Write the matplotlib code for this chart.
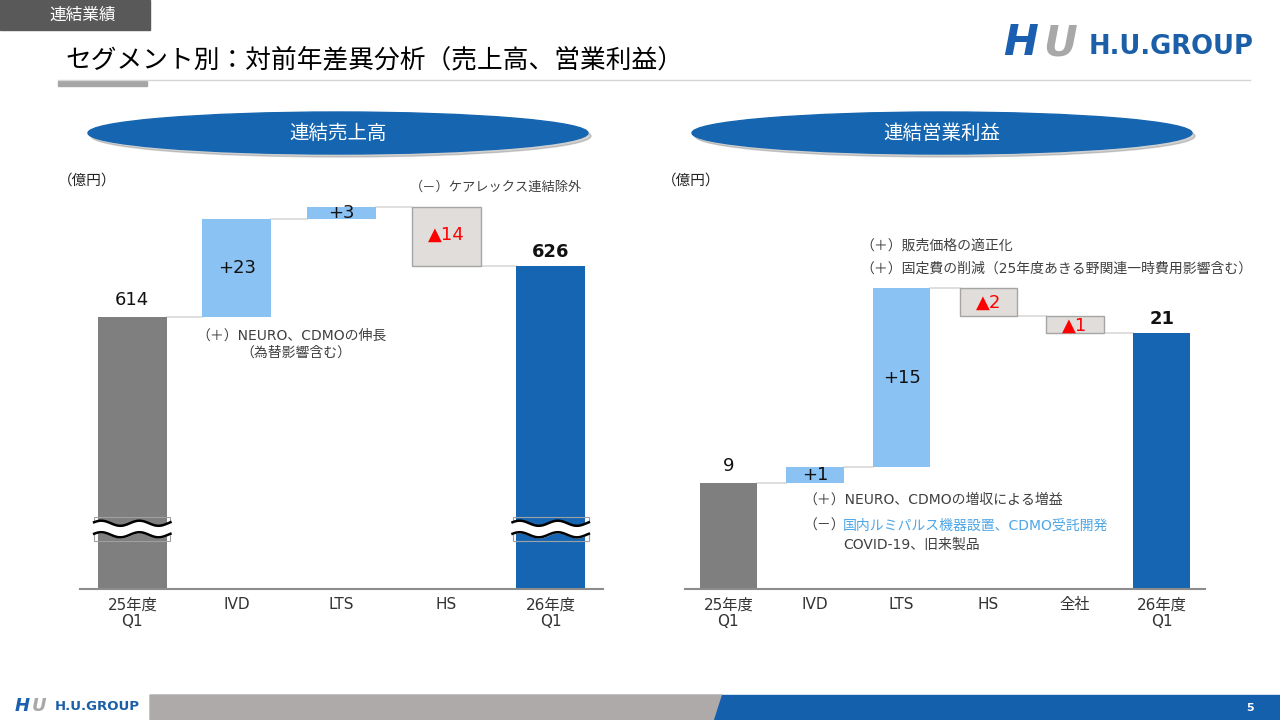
import numpy as np
import matplotlib
matplotlib.use("Agg")
import matplotlib.pyplot as plt
from matplotlib.patches import Rectangle, Ellipse, Polygon

plt.rcParams['font.family'] = ['DejaVu Sans', 'Noto Sans CJK JP']

# 連結売上高 (億円)
sales_cats = ['25年度\nQ1', 'IVD', 'LTS', 'HS', '26年度\nQ1']
sales_start = 614
sales_deltas = [23, 3, -14]
sales_end = 626
sales_labels = ['614', '+23', '+3', '▲14', '626']

# 連結営業利益 (億円)
op_cats = ['25年度\nQ1', 'IVD', 'LTS', 'HS', '全社', '26年度\nQ1']
op_start = 8.7
op_deltas = [1.3, 14.7, -2.3, -1.4]
op_end = 21.0
op_labels = ['9', '+1', '+15', '▲2', '▲1', '21']

C_START = '#7f7f7f'
C_END = '#1565b2'
C_UP = '#8ac2f4'
C_DOWN = '#e0ddda'
C_TEXT = '#404040'
C_RED = '#ff0000'

W, H = 1280, 720
fig = plt.figure(figsize=(12.8, 7.2), dpi=100)

# background / decoration layer in pixel coords
bg = fig.add_axes([0, 0, 1, 1])
bg.set_xlim(0, W)
bg.set_ylim(H, 0)
bg.axis('off')

# header tag
bg.add_patch(Rectangle((0, 0), 150, 30, color='#595959'))
bg.text(83, 15, '連結業績', color='white', fontsize=12, ha='center', va='center')
bg.text(65, 60, 'セグメント別：対前年差異分析（売上高、営業利益）', fontsize=18.5,
        ha='left', va='center', color='#000000')
bg.plot([58, 1250], [80, 80], color='#d5d5d5', lw=1)
bg.add_patch(Rectangle((58, 81), 89, 5, color='#a6a6a6'))

# logo top right
bg.text(1003, 43, 'H', fontsize=30, fontweight='heavy', fontstyle='italic',
        color='#1a5fb0', ha='left', va='center')
bg.text(1043, 43, 'U', fontsize=30, fontweight='heavy', fontstyle='italic',
        color='#a8a8a8', ha='left', va='center')
bg.text(1089, 47, 'H.U.GROUP', fontsize=18.5, fontweight='bold',
        color='#1a5fa8', ha='left', va='center')

# section ellipses
for cx, title in [(338, '連結売上高'), (942, '連結営業利益')]:
    bg.add_patch(Ellipse((cx + 3, 136), 500, 42, color='#7a7a7a', alpha=0.35))
    bg.add_patch(Ellipse((cx, 133), 500, 42, color='#1565b0'))
    bg.text(cx, 133, title, color='white', fontsize=14, ha='center', va='center')

bg.text(58, 180, '（億円）', fontsize=10.5, color='#222222', ha='left', va='center')
bg.text(662, 180, '（億円）', fontsize=10.5, color='#222222', ha='left', va='center')

# annotations, sales
bg.text(410, 187, '（－）ケアレックス連結除外', fontsize=9.5, color=C_TEXT, va='center')
bg.text(196, 336, '（＋）NEURO、CDMOの伸長', fontsize=10, color=C_TEXT, va='center')
bg.text(240, 353, '（為替影響含む）', fontsize=10, color=C_TEXT, va='center')

# annotations, operating profit
bg.text(860, 246, '（＋）販売価格の適正化', fontsize=10, color=C_TEXT, va='center')
bg.text(860, 269, '（＋）固定費の削減（25年度あきる野関連一時費用影響含む）', fontsize=10,
        color=C_TEXT, va='center')
bg.text(803, 500, '（＋）NEURO、CDMOの増収による増益', fontsize=10, color=C_TEXT, va='center')
bg.text(803, 526, '（－）', fontsize=10, color=C_TEXT, va='center')
bg.text(843, 526, '国内ルミパルス機器設置、CDMO受託開発', fontsize=10, color='#4da6e8',
        va='center')
bg.text(843, 545, 'COVID-19、旧来製品', fontsize=10, color=C_TEXT, va='center')

# footer
bg.text(15, 706, 'H', fontsize=13, fontweight='heavy', fontstyle='italic',
        color='#1a5fb0', ha='left', va='center')
bg.text(32, 706, 'U', fontsize=13, fontweight='heavy', fontstyle='italic',
        color='#a8a8a8', ha='left', va='center')
bg.text(55, 707, 'H.U.GROUP', fontsize=9.5, fontweight='bold', color='#1a5fa8',
        ha='left', va='center')
bg.add_patch(Polygon([(150, 695), (722, 695), (714, 720), (150, 720)], color='#aeaaaa'))
bg.add_patch(Polygon([(722, 695), (1280, 695), (1280, 720), (714, 720)], color='#1460ad'))
bg.text(1250, 708, '5', fontsize=8, fontweight='bold', color='white', ha='center', va='center')


def px_axes(left, right, top, bottom):
    return fig.add_axes([left / W, 1 - bottom / H, (right - left) / W, (bottom - top) / H],
                        facecolor='none')


def waterfall(ax, cats, start, deltas, end, labels, ppu):
    n = len(cats)
    x = np.arange(n)
    bw = 0.66
    # start bar
    ax.bar(0, start, width=bw, color=C_START, zorder=2)
    ax.annotate(labels[0], (0, start), xytext=(0, 17), textcoords='offset pixels',
                ha='center', va='center', fontsize=13, color='#111111')
    level = start
    for i, d in enumerate(deltas, start=1):
        lo, hi = min(level, level + d), max(level, level + d)
        # connector from previous bar
        ax.plot([i - 1 + bw / 2, i - bw / 2], [level, level], color='#d9d9d9', lw=1.2, zorder=1)
        if d >= 0:
            ax.bar(i, hi - lo, bottom=lo, width=bw, color=C_UP, zorder=2)
            ax.text(i, (lo + hi) / 2, labels[i], ha='center', va='center',
                    fontsize=13, color='#111111', zorder=3)
        else:
            ax.bar(i, hi - lo, bottom=lo, width=bw, color=C_DOWN,
                   edgecolor='#a5a5a5', lw=1, zorder=2)
            off = min((hi - lo) * ppu / 2, 27)
            ax.annotate(labels[i], (i, hi), xytext=(0, -off - 1), textcoords='offset pixels',
                        ha='center', va='center', fontsize=13, color=C_RED, zorder=3)
        level += d
    ax.plot([n - 2 + bw / 2, n - 1 - bw / 2], [level, level], color='#d9d9d9', lw=1.2, zorder=1)
    ax.bar(n - 1, end, width=bw, color=C_END, zorder=2)
    ax.annotate(labels[-1], (n - 1, end), xytext=(0, 14), textcoords='offset pixels',
                ha='center', va='center', fontsize=13, fontweight='bold', color='#111111')

    ax.set_xticks(x)
    ax.set_xticklabels(cats, fontsize=11, color='#333333', linespacing=1.1)
    ax.tick_params(axis='x', length=0, pad=6)
    ax.set_yticks([])
    for s in ['top', 'left', 'right']:
        ax.spines[s].set_visible(False)
    ax.spines['bottom'].set_color('#8c8c8c')
    ax.spines['bottom'].set_linewidth(1.5)
    ax.spines['bottom'].set_zorder(4)
    ax.set_xlim(-0.5, n - 0.5)


def break_mark(ax, xc, y_low, y_high, amp):
    t = np.linspace(0, 1, 120)
    xs = xc - 0.365 + 0.73 * t
    wave = amp * np.sin(2 * np.pi * 2.0 * t + 0.4)
    gap = (y_high - y_low)
    top = y_low + gap * 0.74 + wave
    bot = y_low + gap * 0.26 + wave
    ax.add_patch(Rectangle((xc - 0.365, y_low), 0.73, gap, fill=False,
                           edgecolor='#a0a0a0', lw=0.8, zorder=5))
    ax.fill_between(xs, bot, top, color='white', zorder=5)
    ax.plot(xs, top, color='black', lw=1.8, zorder=6)
    ax.plot(xs, bot, color='black', lw=1.8, zorder=6)


# left: sales
axL = px_axes(80, 603, 170, 589)
ppuL = 4.25
axL.set_ylim(550, 550 + 419 / ppuL)
waterfall(axL, sales_cats, sales_start, sales_deltas, sales_end, sales_labels, ppuL)
for xc in [0, len(sales_cats) - 1]:
    break_mark(axL, xc, 550 + (589 - 541) / ppuL, 550 + (589 - 517) / ppuL, 0.6)

# right: operating profit
axR = px_axes(685, 1205, 170, 589)
ppuR = 12.18
axR.set_ylim(0, 419 / ppuR)
waterfall(axR, op_cats, op_start, op_deltas, op_end, op_labels, ppuR)

fig.savefig('out.png', dpi=100)
